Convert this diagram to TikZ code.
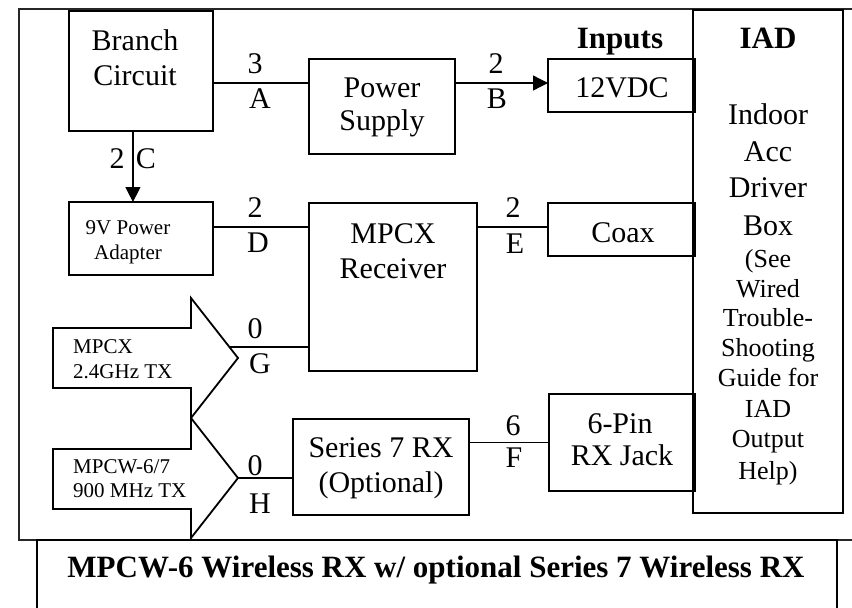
\documentclass[tikz,border=0pt]{standalone}
\usepackage{fontspec}
\setmainfont{Liberation Serif}
\usetikzlibrary{arrows.meta,calc}
\begin{document}
\begin{tikzpicture}[x=1pt,y=-1pt,
 box/.style={draw, line width=1.8pt, inner sep=0pt, outer sep=0pt},
 wire/.style={line width=1.3pt},
 arr/.style={wire, -{Triangle[length=15pt,width=15pt]}},
 blk/.style={draw, line width=1.8pt, line join=miter},
 txt/.style={inner sep=0pt, anchor=base, font=\fontsize{30}{36}\selectfont},
 smc/.style={inner sep=0pt, anchor=base, font=\fontsize{21}{24}\selectfont},
 sml/.style={inner sep=0pt, anchor=base west, font=\fontsize{21}{24}\selectfont},
 iadb/.style={inner sep=0pt, anchor=base, font=\fontsize{30}{36}\selectfont},
 iads/.style={inner sep=0pt, anchor=base, font=\fontsize{26}{30}\selectfont},
 hd/.style={inner sep=0pt, anchor=base, font=\fontsize{31}{36}\selectfont\bfseries}]
\useasboundingbox (0,0) rectangle (852,608);
\fill[white] (0,0) rectangle (852,608);

% outer frame
\draw[line width=1.5pt, black!85] (852,9) -- (19,9) -- (19,540) -- (852,540);
% title box
\draw[line width=2.4pt] (37,612) -- (37,540) -- (837,540) -- (837,612);
\node[hd] (title) at (436,577) {MPCW-6 Wireless RX w/ optional Series 7 Wireless RX};

% boxes
\node[box, minimum width=150, minimum height=503] (iad) at (768,261.5) {};
\node[box, minimum width=144, minimum height=120] (bc) at (141,71) {};
\node[box, minimum width=146, minimum height=95] (ps) at (382,106.5) {};
\node[box, minimum width=147, minimum height=53] (v12) at (621.5,85.5) {};
\node[box, minimum width=144, minimum height=73] (v9) at (141,238.5) {};
\node[box, minimum width=168, minimum height=168] (rx) at (393,287) {};
\node[box, minimum width=147, minimum height=53] (coax) at (621.5,229.5) {};
\node[box, minimum width=176, minimum height=96] (s7) at (381,467) {};
\node[box, minimum width=146, minimum height=97] (pin) at (622,442.5) {};

% block arrows (transmitters)
\coordinate (tip1) at (238,358);
\coordinate (tip2) at (238,478);
\draw[blk] (53,328) -- (191,328) -- (191,298) -- (tip1) -- (191,418) -- (191,388) -- (53,388) -- cycle;
\draw[blk] (53,449) -- (191,449) -- (191,418) -- (tip2) -- (191,538) -- (191,509) -- (53,509) -- cycle;
\node[sml] (tx1a) at (73,353) {MPCX};
\node[sml] (tx1b) at (73,378) {2.4GHz TX};
\node[sml] (tx2a) at (73,473) {MPCW-6/7};
\node[sml] (tx2b) at (73,497) {900 MHz TX};

% box texts
\node[txt] (bct1) at (135,50) {Branch};
\node[txt] (bct2) at (135,85) {Circuit};
\node[txt] (pst1) at (382,97) {Power};
\node[txt] (pst2) at (382,130) {Supply};
\node[txt] (v12t) at (622,97) {12VDC};
\node[txt] (coaxt) at (623,242) {Coax};
\node[txt] (rxt1) at (393,243) {MPCX};
\node[txt] (rxt2) at (393,278) {Receiver};
\node[smc] (v9t1) at (128,234) {9V Power};
\node[smc] (v9t2) at (128,259) {Adapter};
\node[txt] (s7t1) at (381,457) {Series 7 RX};
\node[txt] (s7t2) at (381,492) {(Optional)};
\node[txt] (pint1) at (620,433) {6-Pin};
\node[txt] (pint2) at (622,465) {RX Jack};
\node[hd] (inputs) at (620,48) {Inputs};
\node[hd] (iadh) at (768,48) {IAD};
\node[iadb] (i1) at (768,124) {Indoor};
\node[iadb] (i2) at (768,161) {Acc};
\node[iadb] (i3) at (768,197) {Driver};
\node[iadb] (i4) at (768,235) {Box};
\node[iads] (i5) at (768,267) {(See};
\node[iads] (i6) at (768,297) {Wired};
\node[iads] (i7) at (768,326) {Trouble-};
\node[iads] (i8) at (768,356) {Shooting};
\node[iads] (i9) at (768,386) {Guide for};
\node[iads] (i10) at (768,417) {IAD};
\node[iads] (i11) at (768,447) {Output};
\node[iads] (i12) at (768,479) {Help)};

% connectors
\coordinate (pA) at ($(bc.north east)!0.6!(bc.south east)$);
\draw[wire] (pA) -- (pA -| ps.west);
\draw[arr] (pA -| ps.east) -- (pA -| v12.west);
\coordinate (pC) at ($(bc.south west)!0.444!(bc.south east)$);
\draw[arr] (pC) -- (pC |- v9.north);
\coordinate (pD) at ($(v9.north east)!0.342!(v9.south east)$);
\draw[wire] (pD) -- (pD -| rx.west);
\draw[wire] (pD -| rx.east) -- (pD -| coax.west);
\coordinate (gS) at (229.4,347);
\draw[wire] (gS) -- (gS -| rx.west);
\draw[wire] (tip2) -- (tip2 -| s7.west);
\draw[wire] (pin.west -| s7.east) -- (pin.west);

% connector labels
\node[txt] (l3) at (255,73) {3};
\node[txt] (lA) at (260,108) {A};
\node[txt] (l2b) at (496,73) {2};
\node[txt] (lB) at (497,108) {B};
\node[txt] (l2c) at (117,168) {2};
\node[txt] (lC) at (146,168) {C};
\node[txt] (l2d) at (255,217) {2};
\node[txt] (lD) at (258,252) {D};
\node[txt] (l2e) at (513,217) {2};
\node[txt] (lE) at (515,253) {E};
\node[txt] (l0g) at (255,338) {0};
\node[txt] (lG) at (260,373) {G};
\node[txt] (l0h) at (255,475) {0};
\node[txt] (lH) at (260,513) {H};
\node[txt] (l6) at (513,435) {6};
\node[txt] (lF) at (514,467) {F};
\end{tikzpicture}
\end{document}
